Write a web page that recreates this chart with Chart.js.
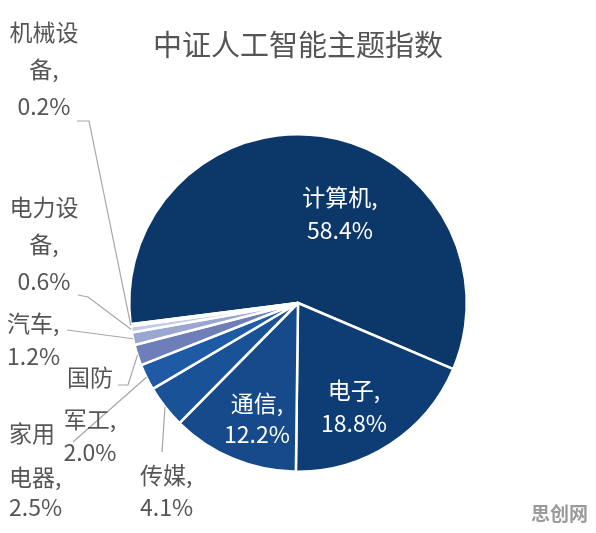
<!DOCTYPE html>
<html lang="zh">
<head>
<meta charset="UTF-8">
<title>中证人工智能主题指数</title>
<script src="https://cdn.jsdelivr.net/npm/chart.js"></script>
<style>
  html, body { margin: 0; padding: 0; background: #fff; }
  #wrap { width: 596px; height: 533px; position: relative; }
</style>
</head>
<body>
<div id="wrap"><canvas id="myChart"></canvas></div>
<script>
// 行业权重 (%)
const categories = ['计算机', '电子', '通信', '传媒', '家用电器', '国防军工', '汽车', '电力设备', '机械设备'];
const weights = [58.4, 18.8, 12.2, 4.1, 2.5, 2.0, 1.2, 0.6, 0.2];
const colors = ['#0b3769', '#0e3d75', '#164a8b', '#1a5298', '#1f5ba5', '#6d7eb8', '#9ba7d0', '#c4cce4', '#e2e6f2'];

// 标签文字（按行拆开）和摆放位置
const labelLines = [
  ['计算机,', '58.4%'],
  ['电子,', '18.8%'],
  ['通信,', '12.2%'],
  ['传媒,', '4.1%'],
  ['家用', '电器,', '2.5%'],
  ['国防', '军工,', '2.0%'],
  ['汽车,', '1.2%'],
  ['电力设', '备,', '0.6%'],
  ['机械设', '备,', '0.2%']
];
const labelLayout = [
  { inside: true, x: 340, ys: [197, 230], align: 'center' },
  { inside: true, x: 354, ys: [390, 423], align: 'center' },
  { inside: true, x: 257, ys: [403, 434], align: 'center' },
  { x: 140, ys: [475, 507], align: 'left', leader: [[162, 452]] },
  { x: 9, ys: [433, 477, 507], align: 'left', leader: [[73, 442]] },
  { x: 90, ys: [377, 419, 452], align: 'center', leader: [[118, 385], [128, 385]] },
  { x: 7, ys: [323, 356], align: 'left', leader: [[67, 330]] },
  { x: 44, ys: [207, 244, 281], align: 'center', leader: [[78, 295], [88, 297]] },
  { x: 44, ys: [32, 69, 106], align: 'center', leader: [[77, 121], [89, 121]] }
];

const FONT = '"Noto Sans CJK SC", "Noto Sans", sans-serif';

const labelPlugin = {
  id: 'pieLabels',
  afterDatasetsDraw(chart) {
    const ctx = chart.ctx;
    const meta = chart.getDatasetMeta(0);
    ctx.save();

    // 标题
    ctx.fillStyle = '#555555';
    ctx.font = '29px ' + FONT;
    ctx.textAlign = 'center';
    ctx.textBaseline = 'middle';
    ctx.fillText('中证人工智能主题指数', 298, 45);

    meta.data.forEach((arc, i) => {
      const lay = labelLayout[i];
      if (!lay.inside) {
        // 引导线：从扇区外缘中点连到文字
        const mid = (arc.startAngle + arc.endAngle) / 2;
        const sx = arc.x + Math.cos(mid) * arc.outerRadius;
        const sy = arc.y + Math.sin(mid) * arc.outerRadius;
        ctx.strokeStyle = '#a6a6a6';
        ctx.lineWidth = 1.2;
        ctx.beginPath();
        ctx.moveTo(lay.leader[0][0], lay.leader[0][1]);
        for (let k = 1; k < lay.leader.length; k++) ctx.lineTo(lay.leader[k][0], lay.leader[k][1]);
        ctx.lineTo(sx, sy);
        ctx.stroke();
      }
      ctx.fillStyle = lay.inside ? '#ffffff' : '#555555';
      ctx.font = '23px ' + FONT;
      ctx.textAlign = lay.align;
      ctx.textBaseline = 'middle';
      labelLines[i].forEach((t, k) => ctx.fillText(t, lay.x, lay.ys[k]));
    });

    // 水印
    ctx.fillStyle = '#9a9a9a';
    ctx.font = 'bold 19px ' + FONT;
    ctx.textAlign = 'right';
    ctx.fillText('思创网', 588, 514);
    ctx.restore();
  }
};

const ctx = document.getElementById('myChart');
new Chart(ctx, {
  type: 'pie',
  data: {
    labels: categories,
    datasets: [{
      data: weights,
      backgroundColor: colors,
      borderColor: '#ffffff',
      borderWidth: 2.5,
      hoverOffset: 0
    }]
  },
  options: {
    responsive: true,
    maintainAspectRatio: false,
    animation: false,
    rotation: -97.2,
    layout: { padding: { left: 128, right: 128, top: 133, bottom: 60 } },
    plugins: {
      legend: { display: false },
      tooltip: { enabled: false }
    }
  },
  plugins: [labelPlugin]
});
</script>
</body>
</html>
